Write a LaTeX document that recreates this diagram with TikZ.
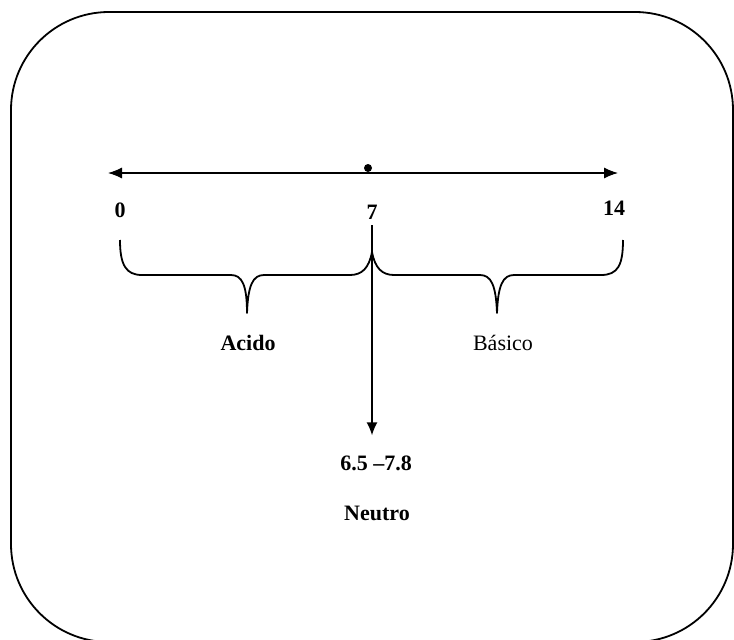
\documentclass[tikz,border=0pt]{standalone}
\usepackage{fontspec}
\setmainfont{Liberation Serif}
\usetikzlibrary{arrows.meta}

\tikzset{
  etiqueta/.style={font=\fontsize{22}{26}\selectfont\bfseries, inner sep=2pt},
  llave/.style={line width=1.8pt, line join=round},
}

\begin{document}
\begin{tikzpicture}[x=1pt,y=-1pt]
 \useasboundingbox (0,0) rectangle (734,640);
 \draw[line width=1.8pt, rounded corners=98pt] (11,12) rectangle (733,642);

 % escala de pH
  \coordinate (izq) at (108,173);
  \coordinate (der) at (618,173);
  \draw[line width=1.1pt, {Latex[length=14pt,width=11pt]}-{Latex[length=14pt,width=11pt]}] (izq) -- (der);
  \draw (368,168) node[circle, fill, inner sep=0pt, minimum size=8pt] (centro) {};

  \draw (120,210) node[etiqueta] (cero) {0};
  \draw (372,212) node[etiqueta] (siete) {7};
  \draw (614,208) node[etiqueta] (catorce) {14};

  % llaves
  \coordinate (ini) at (120,240);
  \coordinate (medio) at (372,252);
  \coordinate (fin) at (623,240);
  \draw[llave] (ini) .. controls (120,265) and (126,275) .. (142,275) -- (231,275)
     .. controls (242,275) and (247,285) .. (247,313)
     .. controls (248,285) and (253,275) .. (264,275) -- (350,275)
     .. controls (362,275) and (369,268) .. (medio);
  \draw[llave] (medio) .. controls (375,268) and (382,275) .. (394,275) -- (480,275)
     .. controls (491,275) and (496,285) .. (497,313)
     .. controls (498,285) and (503,275) .. (514,275) -- (601,275)
     .. controls (618,275) and (623,265) .. (fin);

  \draw (248,343) node[etiqueta] (acido) {Acido};
  \draw (503,343) node[etiqueta, font=\fontsize{22}{26}\selectfont] (basico) {Básico};
  \draw (376,463) node[etiqueta] (rango) {6.5 –7.8};
  \draw (377,513) node[etiqueta] (neutro) {Neutro};

     \path[-{Latex[length=13pt,width=11pt]}, line width=1.4pt] (siete) edge[shorten <=4pt, shorten >=18pt] (siete |- rango.north);
\end{tikzpicture}
\end{document}
